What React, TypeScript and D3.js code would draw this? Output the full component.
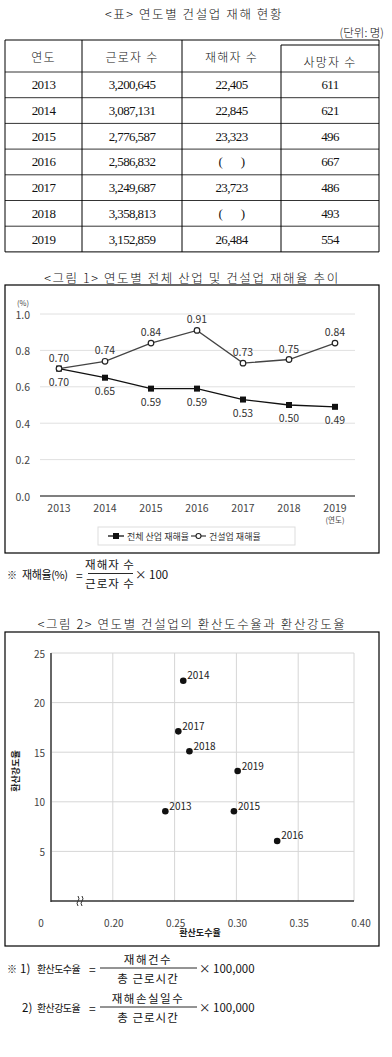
import * as d3 from "d3";

const years = ["2013", "2014", "2015", "2016", "2017", "2018", "2019"];
const workers = ["3,200,645", "3,087,131", "2,776,587", "2,586,832", "3,249,687", "3,358,813", "3,152,859"];
const injured = ["22,405", "22,845", "23,323", "(\u00a0\u00a0\u00a0\u00a0\u00a0\u00a0\u00a0)", "23,723", "(\u00a0\u00a0\u00a0\u00a0\u00a0\u00a0\u00a0)", "26,484"];
const deaths = ["611", "621", "496", "667", "486", "493", "554"];
const tableHead = ["연도", "근로자 수", "재해자 수", "사망자 수"];

const totalRate = [0.7, 0.65, 0.59, 0.59, 0.53, 0.5, 0.49];
const constRate = [0.7, 0.74, 0.84, 0.91, 0.73, 0.75, 0.84];
const rateTicks = [0, 0.2, 0.4, 0.6, 0.8, 1.0];

const scatterYears = ["2013", "2014", "2015", "2016", "2017", "2018", "2019"];
const freqRate = [0.2425, 0.257, 0.298, 0.333, 0.253, 0.262, 0.301];
const sevRate = [9.05, 22.2, 9.05, 6.05, 17.1, 15.1, 13.1];
const xTicks = [0.2, 0.25, 0.3, 0.35, 0.4];
const yTicks = [5, 10, 15, 20, 25];

const KR = "'Noto Sans CJK KR', 'Noto Sans', sans-serif";
const SERIF = "'Liberation Serif', 'DejaVu Serif', serif";

function Table() {
  const cols = [5, 82, 182, 281, 379];
  const top = 40;
  const headBottom = 72;
  const rowH = 25.7;
  const bottom = headBottom + rowH * years.length;
  const rows = years.map((y, i) => [y, workers[i], injured[i], deaths[i]]);
  return (
    <g>
      <text x={194} y={13} textAnchor="middle" dominantBaseline="central" fontFamily={KR} fontSize={12.5} fontWeight={300} letterSpacing={1.6} fill="#111">
        {"<표> 연도별 건설업 재해 현황"}
      </text>
      <text x={384} y={32} textAnchor="end" dominantBaseline="central" fontFamily={KR} fontSize={11.5} fontWeight={300} fill="#111">
        (단위: 명)
      </text>
      <line x1={cols[0]} x2={cols[4]} y1={top} y2={top} stroke="#000" strokeWidth={1} />
      <line x1={cols[3]} x2={cols[4]} y1={45} y2={45} stroke="#000" strokeWidth={1} />
      <line x1={cols[0]} x2={cols[4]} y1={bottom} y2={bottom} stroke="#000" strokeWidth={1} />
      {cols.map((c, i) => (
        <line key={i} x1={c} x2={c} y1={i === 3 ? 45 : top} y2={bottom} stroke="#000" strokeWidth={1} />
      ))}
      {d3.range(years.length).map((i) => (
        <line key={i} x1={cols[0]} x2={cols[4]} y1={headBottom + rowH * i} y2={headBottom + rowH * i} stroke="#000" strokeWidth={0.8} />
      ))}
      {tableHead.map((h, j) => (
        <text key={h} x={(cols[j] + cols[j + 1]) / 2} y={j === 3 ? 61 : 56} textAnchor="middle" dominantBaseline="central" fontFamily={KR} fontSize={12} fontWeight={300} letterSpacing={1.2} fill="#111">
          {h}
        </text>
      ))}
      {rows.map((r, i) =>
        r.map((v, j) => (
          <text key={i + "-" + j} x={(cols[j] + cols[j + 1]) / 2} y={headBottom + rowH * (i + 0.5)} textAnchor="middle" dominantBaseline="central" fontFamily={SERIF} fontSize={13} letterSpacing={-0.6} fill="#111">
            {v}
          </text>
        ))
      )}
    </g>
  );
}

function LineChart() {
  const x = d3.scalePoint().domain(years).range([59, 335]);
  const y = d3.scaleLinear().domain([0, 1]).range([496, 314]);
  const line = d3.line<number>().x((_, i) => x(years[i]) as number).y((d) => y(d));
  return (
    <g>
      <text x={192} y={277} textAnchor="middle" dominantBaseline="central" fontFamily={KR} fontSize={12.5} fontWeight={300} letterSpacing={1.6} fill="#111">
        {"<그림 1> 연도별 전체 산업 및 건설업 재해율 추이"}
      </text>
      <rect x={5} y={285} width={374} height={268} fill="none" stroke="#000" strokeWidth={1.2} />
      <text x={17} y={302} fontFamily={KR} fontSize={7.5} fill="#444" dominantBaseline="central">(%)</text>
      {rateTicks.map((t) => (
        <g key={t}>
          <line x1={40} x2={355} y1={y(t)} y2={y(t)} stroke={t === 0 ? "#555" : "#e0e0e0"} strokeWidth={t === 0 ? 1.3 : 1} />
          <text x={30} y={y(t)} textAnchor="end" dominantBaseline="central" fontFamily={KR} fontSize={10.5} fill="#444">
            {d3.format(".1f")(t)}
          </text>
        </g>
      ))}
      {years.map((yr) => (
        <text key={yr} x={x(yr)} y={507} textAnchor="middle" dominantBaseline="central" fontFamily={KR} fontSize={10.5} fill="#444">
          {yr}
        </text>
      ))}
      <text x={x("2019")} y={519} textAnchor="middle" dominantBaseline="central" fontFamily={KR} fontSize={7.5} fill="#444">(연도)</text>
      <path d={line(constRate) || ""} fill="none" stroke="#444" strokeWidth={1.3} />
      <path d={line(totalRate) || ""} fill="none" stroke="#111" strokeWidth={1.3} />
      {totalRate.map((v, i) => (
        <g key={"t" + i}>
          <rect x={(x(years[i]) as number) - 3} y={y(v) - 3} width={6} height={6} fill="#111" />
          <text x={x(years[i])} y={y(v) + 12.5} textAnchor="middle" dominantBaseline="central" fontFamily={KR} fontSize={10.5} fill="#333">
            {d3.format(".2f")(v)}
          </text>
        </g>
      ))}
      {constRate.map((v, i) => (
        <g key={"c" + i}>
          <circle cx={x(years[i])} cy={y(v)} r={2.8} fill="#fff" stroke="#222" strokeWidth={1.2} />
          <text x={x(years[i])} y={y(v) - 11.5} textAnchor="middle" dominantBaseline="central" fontFamily={KR} fontSize={10.5} fill="#333">
            {d3.format(".2f")(v)}
          </text>
        </g>
      ))}
      <rect x={98} y={527} width={197} height={18} fill="#fff" stroke="#ddd" strokeWidth={1} />
      <line x1={108} x2={124} y1={536} y2={536} stroke="#111" strokeWidth={1.3} />
      <rect x={113} y={533} width={6} height={6} fill="#111" />
      <text x={127} y={536} dominantBaseline="central" fontFamily={KR} fontSize={9} fill="#333">전체 산업 재해율</text>
      <line x1={191} x2={206} y1={536} y2={536} stroke="#444" strokeWidth={1.3} />
      <circle cx={198.5} cy={536} r={2.5} fill="#fff" stroke="#222" strokeWidth={1.1} />
      <text x={209} y={536} dominantBaseline="central" fontFamily={KR} fontSize={9} fill="#333">건설업 재해율</text>
    </g>
  );
}

function Note1() {
  return (
    <g fontFamily={KR} fill="#111">
      <text x={7} y={574} dominantBaseline="central" fontSize={10}>※</text>
      <text x={22} y={574} dominantBaseline="central" fontSize={11} letterSpacing={-0.4}>재해율(%)</text>
      <text x={76} y={574} dominantBaseline="central" fontSize={12}>=</text>
      <text x={110} y={564} textAnchor="middle" dominantBaseline="central" fontSize={11.5} letterSpacing={1}>재해자 수</text>
      <line x1={88} x2={133} y1={573.5} y2={573.5} stroke="#111" strokeWidth={0.9} />
      <text x={110} y={583} textAnchor="middle" dominantBaseline="central" fontSize={11.5} letterSpacing={1}>근로자 수</text>
      <text x={135} y={574} dominantBaseline="central" fontSize={11.5}>× 100</text>
    </g>
  );
}

function Note2() {
  const items = [
    { mark: "※", num1: "1)", name: "환산도수율", num: "재해건수", y: 968, nx: 20 },
    { mark: "", num1: "2)", name: "환산강도율", num: "재해손실일수", y: 1007, nx: 22 },
  ];
  return (
    <g fontFamily={KR} fill="#111">
      {items.map((it) => (
        <g key={it.name}>
          {it.mark && <text x={7} y={it.y} dominantBaseline="central" fontSize={10}>{it.mark}</text>}
          <text x={it.nx} y={it.y} dominantBaseline="central" fontSize={11.5}>{it.num1}</text>
          <text x={37} y={it.y} dominantBaseline="central" fontSize={10} letterSpacing={-0.6}>{it.name}</text>
          <text x={89} y={it.y} dominantBaseline="central" fontSize={12}>=</text>
          <text x={148} y={it.y - 9.5} textAnchor="middle" dominantBaseline="central" fontSize={11.5} letterSpacing={1.5}>{it.num}</text>
          <line x1={100} x2={197} y1={it.y} y2={it.y} stroke="#111" strokeWidth={0.9} />
          <text x={148} y={it.y + 10} textAnchor="middle" dominantBaseline="central" fontSize={11.5} letterSpacing={1}>총 근로시간</text>
          <text x={199} y={it.y} dominantBaseline="central" fontSize={11.5}>× 100,000</text>
        </g>
      ))}
    </g>
  );
}

function Scatter() {
  const x = d3.scaleLinear().domain([0.15, 0.4]).range([51, 360]);
  const y = d3.scaleLinear().domain([0, 25]).range([901, 653]);
  const right = 354;
  return (
    <g>
      <text x={192} y={623} textAnchor="middle" dominantBaseline="central" fontFamily={KR} fontSize={12.5} fontWeight={300} letterSpacing={1.6} fill="#111">
        {"<그림 2> 연도별 건설업의 환산도수율과 환산강도율"}
      </text>
      <rect x={5} y={632} width={374} height={314} fill="none" stroke="#000" strokeWidth={1.2} />
      {yTicks.map((t) => (
        <g key={t}>
          <line x1={51} x2={right} y1={y(t)} y2={y(t)} stroke="#d6d6d6" strokeWidth={1} />
          <text x={45} y={y(t)} textAnchor="end" dominantBaseline="central" fontFamily={KR} fontSize={10} fill="#444">{t}</text>
        </g>
      ))}
      {xTicks.map((t) => (
        <g key={t}>
          {x(t) < right && <line x1={x(t)} x2={x(t)} y1={653} y2={901} stroke="#d6d6d6" strokeWidth={1} />}
          <text x={x(t) + 1} y={922} textAnchor="middle" dominantBaseline="central" fontFamily={KR} fontSize={10} fill="#444">{d3.format(".2f")(t)}</text>
        </g>
      ))}
      <line x1={right} x2={right} y1={653} y2={901} stroke="#d6d6d6" strokeWidth={1} />
      <text x={41} y={922} textAnchor="middle" dominantBaseline="central" fontFamily={KR} fontSize={10} fill="#444">0</text>
      <line x1={51} x2={51} y1={653} y2={902} stroke="#666" strokeWidth={2} />
      <line x1={51} x2={right} y1={901} y2={901} stroke="#333" strokeWidth={1.3} />
      <path d="M78,906 q-2,-3 0,-5 q2,-2 0,-5 M82,906 q-2,-3 0,-5 q2,-2 0,-5" fill="none" stroke="#333" strokeWidth={1} />
      {scatterYears.map((yr, i) => (
        <g key={yr}>
          <circle cx={x(freqRate[i])} cy={y(sevRate[i])} r={3.3} fill="#111" />
          <text x={x(freqRate[i]) + 4} y={y(sevRate[i]) - 6} dominantBaseline="central" fontFamily={KR} fontSize={10} fill="#222">{yr}</text>
        </g>
      ))}
      <text x={200} y={932} textAnchor="middle" dominantBaseline="central" fontFamily={KR} fontSize={9} fontWeight={700} fill="#222">환산도수율</text>
      <text transform="translate(15,771) rotate(-90)" textAnchor="middle" dominantBaseline="central" fontFamily={KR} fontSize={9} fontWeight={700} fill="#222">환산강도율</text>
    </g>
  );
}

export default function App() {
  return (
    <div style={{ position: "absolute", left: 0, top: 0, width: 392, height: 1057, background: "#fff" }}>
      <svg width={392} height={1057} style={{ display: "block" }}>
        <rect width={392} height={1057} fill="#fff" />
        <Table />
        <LineChart />
        <Note1 />
        <Scatter />
        <Note2 />
      </svg>
    </div>
  );
}
